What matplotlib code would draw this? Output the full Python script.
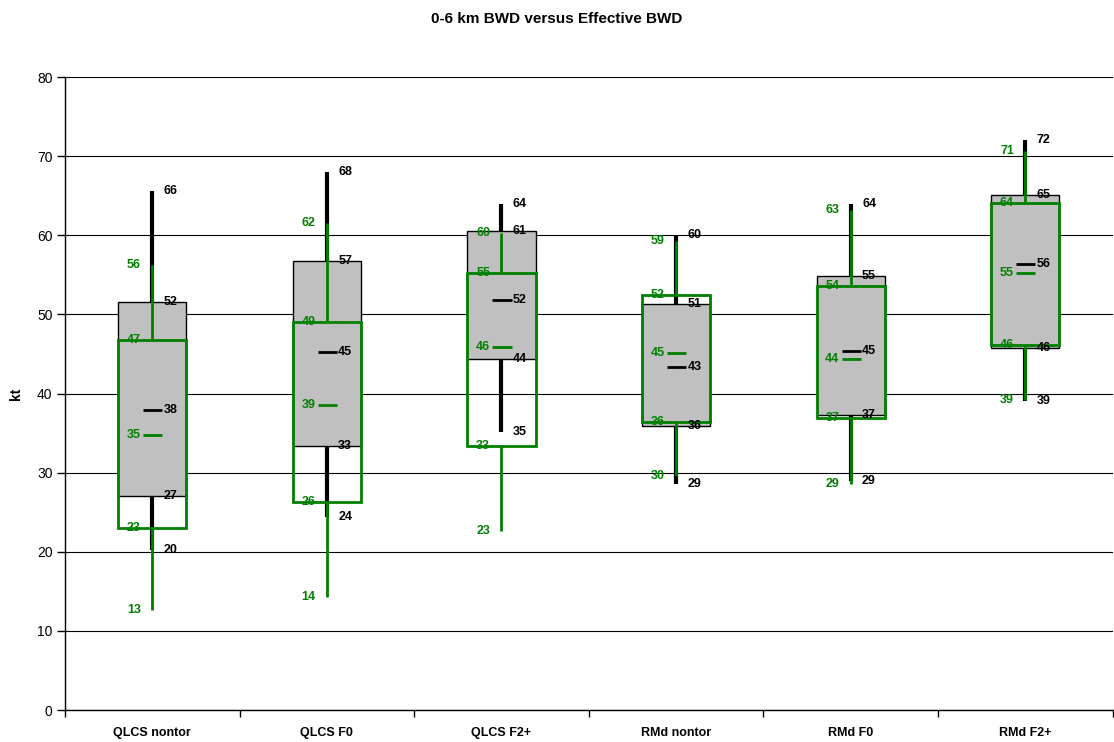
import numpy as np
import matplotlib
matplotlib.use("Agg")
import matplotlib.pyplot as plt

plt.rcParams['font.family'] = ['Liberation Sans', 'DejaVu Sans']

categories = ["QLCS nontor", "QLCS F0", "QLCS F2+", "RMd nontor", "RMd F0", "RMd F2+"]

# 0-6 km BWD (black / gray boxes)
bwd_min = [20.2, 24.4, 35.2, 28.6, 29.0, 39.0]
bwd_q1 = [27.1, 33.4, 44.4, 35.9, 37.3, 45.8]
bwd_med = [37.9, 45.2, 51.8, 43.4, 45.4, 56.4]
bwd_q3 = [51.6, 56.8, 60.6, 51.3, 54.8, 65.1]
bwd_max = [65.6, 68.0, 64.0, 60.0, 64.0, 72.0]

# Effective BWD (green boxes)
eff_min = [12.6, 14.3, 22.6, 29.6, 28.6, 39.2]
eff_q1 = [23.0, 26.3, 33.4, 36.4, 36.9, 46.2]
eff_mid = [34.7, 38.6, 45.9, 45.1, 44.4, 55.3]
eff_q3 = [46.8, 49.0, 55.3, 52.4, 53.6, 64.1]
eff_max = [56.3, 61.5, 60.3, 59.3, 63.2, 70.6]

green = "#008000"
x = np.arange(len(categories))
w = 0.39

fig = plt.figure(figsize=(11.14, 7.42), dpi=100)
ax = fig.add_axes([0.0583, 0.0431, 0.9405, 0.853])

ax.set_ylim(0, 80)
ax.set_xlim(-0.5, 5.5)
ax.set_yticks(np.arange(0, 81, 10))
ax.yaxis.grid(True, color="black", linewidth=0.8, zorder=0)
ax.set_axisbelow(True)

# black boxes + whiskers
bq1, bq3 = np.array(bwd_q1), np.array(bwd_q3)
ax.bar(x, bq3 - bq1, bottom=bq1, width=w, color="#c0c0c0", edgecolor="black",
       linewidth=1, zorder=2)
ax.vlines(x, bq3, bwd_max, color="black", linewidth=3, zorder=3)
ax.vlines(x, bwd_min, bq1, color="black", linewidth=3, zorder=3)

# green boxes + whiskers
eq1, eq3 = np.array(eff_q1), np.array(eff_q3)
ax.bar(x, eq3 - eq1, bottom=eq1, width=w, facecolor="none", edgecolor=green,
       linewidth=2, zorder=4)
ax.vlines(x, eq3, eff_max, color=green, linewidth=2, zorder=5)
ax.vlines(x, eff_min, eq1, color=green, linewidth=2, zorder=5)

# middle dashes
ax.hlines(bwd_med, x - 0.052, x + 0.058, color="black", linewidth=2, zorder=6)
ax.hlines(eff_mid, x - 0.052, x + 0.058, color=green, linewidth=2, zorder=6)

# value labels
for i in x:
    for v in (bwd_min[i], bwd_q1[i], bwd_med[i], bwd_q3[i], bwd_max[i]):
        ax.text(i + 0.065, v, f"{v:.0f}", ha="left", va="center", fontsize=9,
                fontweight="bold", color="black", zorder=7)
    for v in (eff_min[i], eff_q1[i], eff_mid[i], eff_q3[i], eff_max[i]):
        ax.text(i - 0.065, v, f"{v:.0f}", ha="right", va="center", fontsize=9,
                fontweight="bold", color=green, zorder=7)

# axes styling
for s in ("top", "right"):
    ax.spines[s].set_visible(False)
ax.spines["left"].set_linewidth(1)
ax.spines["bottom"].set_linewidth(1)
ax.tick_params(axis="y", length=6, width=1, pad=3, labelsize=10)
ax.set_xticks(x)
ax.set_xticklabels(categories, fontsize=9, fontweight="bold",
                   family=["Liberation Sans Narrow", "Liberation Sans", "DejaVu Sans"])
ax.tick_params(axis="x", which="major", length=0, pad=12)
ax.set_xticks(np.arange(-0.5, 5.6, 1), minor=True)
ax.tick_params(axis="x", which="minor", length=5, width=1)

ax.set_ylabel("kt", fontsize=10, fontweight="bold", labelpad=10)
fig.text(0.5, 0.975, "0-6 km BWD versus Effective BWD", ha="center", va="center",
         fontsize=11, fontweight="bold")

fig.savefig("out.png", dpi=100)
